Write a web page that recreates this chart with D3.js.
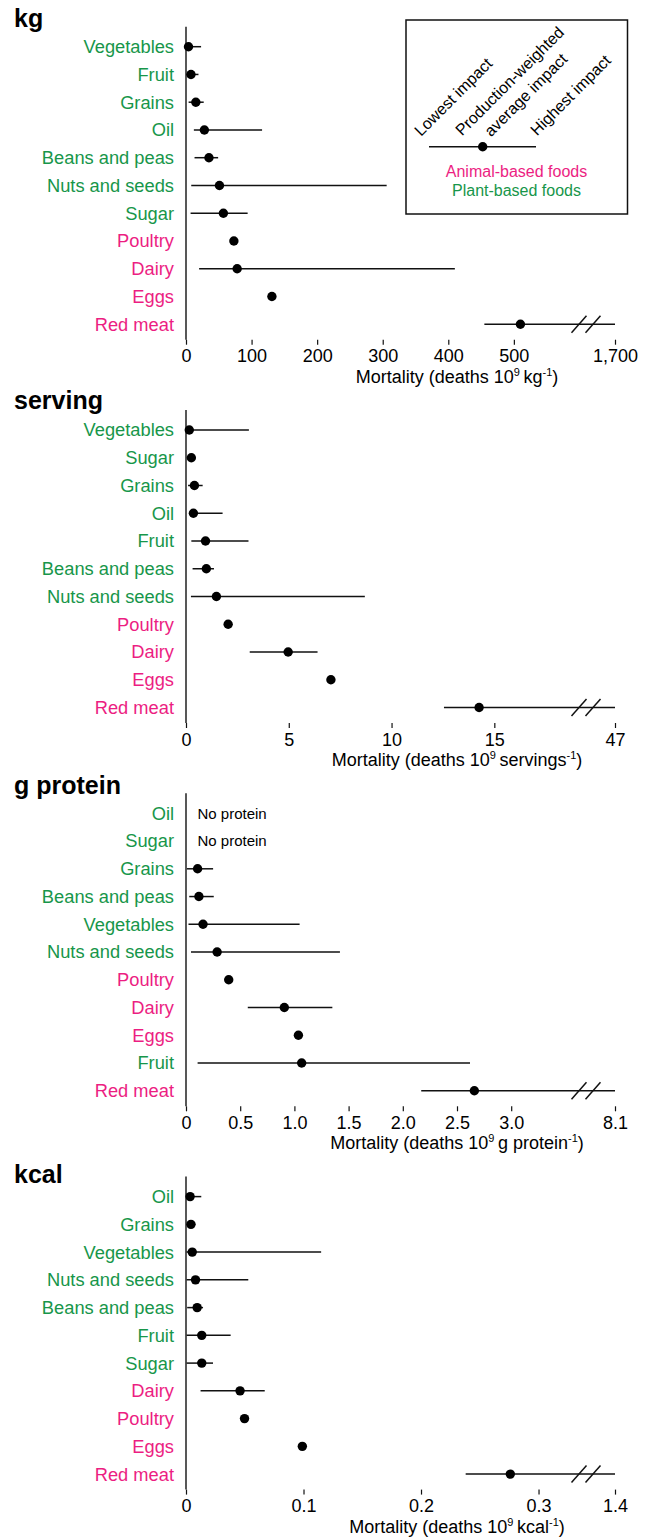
<!DOCTYPE html>
<html>
<head>
<meta charset="utf-8">
<script src="https://cdn.jsdelivr.net/npm/d3@7/dist/d3.min.js"></script>
<style>
  html, body { margin: 0; padding: 0; background: #fff; }
  svg { display: block; font-family: "Liberation Sans", Arial, Helvetica, sans-serif; }
</style>
</head>
<body>
<svg id="chart" width="651" height="1538"></svg>
<script>
// ---------- DATA ----------
const animalFoods = ["Poultry", "Dairy", "Eggs", "Red meat"];

// per kg
const kgFoods = ["Vegetables","Fruit","Grains","Oil","Beans and peas","Nuts and seeds","Sugar","Poultry","Dairy","Eggs","Red meat"];
const kgMean  = [3.8, 7.6, 15, 28, 35, 51, 57, 73, 78, 131, 510];
const kgLow   = [0.5, 1, 4, 12, 13, 8, 7, null, 20, null, 455];
const kgHigh  = [23, 19, 27, 116, 49, 306, 94, null, 410, null, 1700];
const kgTicks = [0, 100, 200, 300, 400, 500, 1700];
const kgTickLabels = ["0","100","200","300","400","500","1,700"];
const kgBreak = [610, 1700];

// per serving
const servFoods = ["Vegetables","Sugar","Grains","Oil","Fruit","Beans and peas","Nuts and seeds","Poultry","Dairy","Eggs","Red meat"];
const servMean  = [0.16, 0.26, 0.41, 0.36, 0.95, 0.99, 1.48, 2.05, 4.97, 7.05, 14.26];
const servLow   = [0.05, 0.1, 0.1, 0.16, 0.26, 0.32, 0.24, null, 3.1, null, 12.55];
const servHigh  = [3.06, 0.45, 0.81, 1.78, 3.04, 1.36, 8.7, null, 6.4, null, 47];
const servTicks = [0, 5, 10, 15, 47];
const servTickLabels = ["0","5","10","15","47"];
const servBreak = [19.46, 47];

// per g protein
const protFoods = ["Oil","Sugar","Grains","Beans and peas","Vegetables","Nuts and seeds","Poultry","Dairy","Eggs","Fruit","Red meat"];
const protMean  = [null, null, 0.107, 0.119, 0.157, 0.287, 0.394, 0.907, 1.037, 1.067, 2.66];
const protLow   = [null, null, 0.008, 0.03, 0.023, 0.046, null, 0.57, null, 0.107, 2.17];
const protHigh  = [null, null, 0.25, 0.256, 1.048, 1.42, null, 1.35, null, 2.62, 8.1];
const protTicks = [0, 0.5, 1, 1.5, 2, 2.5, 3, 8.1];
const protTickLabels = ["0","0.5","1.0","1.5","2.0","2.5","3.0","8.1"];
const protBreak = [3.69, 8.1];

// per kcal
const kcalFoods = ["Oil","Grains","Vegetables","Nuts and seeds","Beans and peas","Fruit","Sugar","Dairy","Poultry","Eggs","Red meat"];
const kcalMean  = [0.0035, 0.0042, 0.0053, 0.0081, 0.0095, 0.0134, 0.0134, 0.046, 0.0498, 0.099, 0.276];
const kcalLow   = [0.0005, 0.002, 0.0005, 0.0005, 0.001, 0.0005, 0.0005, 0.0124, null, null, 0.238];
const kcalHigh  = [0.013, 0.008, 0.115, 0.053, 0.0145, 0.038, 0.023, 0.067, null, null, 1.4];
const kcalTicks = [0, 0.1, 0.2, 0.3, 1.4];
const kcalTickLabels = ["0","0.1","0.2","0.3","1.4"];
const kcalBreak = [0.3404, 1.4];

const panelTitles = ["kg", "serving", "g protein", "kcal"];
const panelUnits  = ["kg", "servings", "g protein", "kcal"];

const legendLabels = ["Lowest impact", "Production-weighted", "average impact", "Highest impact"];
const legendGroups = ["Animal-based foods", "Plant-based foods"];

// ---------- STYLE / LAYOUT ----------
const GREEN = "#17964a", PINK = "#ec1e82", INK = "#111";
const x0 = 186, linW = 400, fullW = 429;
const rowStep = 27.75;
const panelTop0 = 46.7, panelGap = 383.3;
const titleYs = [26.5, 408.5, 793.5, 1183];

const panels = [
  {foods: kgFoods, mean: kgMean, low: kgLow, high: kgHigh, ticks: kgTicks, labels: kgTickLabels, brk: kgBreak},
  {foods: servFoods, mean: servMean, low: servLow, high: servHigh, ticks: servTicks, labels: servTickLabels, brk: servBreak},
  {foods: protFoods, mean: protMean, low: protLow, high: protHigh, ticks: protTicks, labels: protTickLabels, brk: protBreak},
  {foods: kcalFoods, mean: kcalMean, low: kcalLow, high: kcalHigh, ticks: kcalTicks, labels: kcalTickLabels, brk: kcalBreak}
];

const svg = d3.select("#chart");

panels.forEach((p, i) => {
  const top = panelTop0 + i * panelGap;
  const g = svg.append("g");
  const y = d3.scalePoint().domain(p.foods).range([top, top + (p.foods.length - 1) * rowStep]);
  const x = d3.scaleLinear().domain([0, p.brk[0], p.brk[1]]).range([x0, x0 + linW, x0 + fullW]);

  // title
  g.append("text").attr("x", 14).attr("y", titleYs[i])
    .attr("font-size", 25).attr("font-weight", "bold").attr("fill", "#000")
    .text(panelTitles[i]);

  // vertical axis line
  g.append("line").attr("x1", x0).attr("x2", x0)
    .attr("y1", top - 20).attr("y2", top + 293)
    .attr("stroke", INK).attr("stroke-width", 1.4);

  // x axis
  const axisY = top + 293;
  const ax = g.append("g").attr("transform", `translate(0,${axisY})`)
    .call(d3.axisBottom(x).tickValues(p.ticks)
      .tickFormat((d, k) => p.labels[k]).tickSize(5).tickPadding(5));
  ax.select(".domain").remove();
  ax.selectAll(".tick line").attr("stroke", INK).attr("stroke-width", 1.2);
  ax.selectAll(".tick text").attr("font-size", 18).attr("fill", "#000")
    .attr("font-family", '"Liberation Sans", Arial, Helvetica, sans-serif');

  // axis title
  const t = g.append("text").attr("x", 457).attr("y", top + 336)
    .attr("text-anchor", "middle").attr("font-size", 18).attr("fill", "#000");
  t.append("tspan").text("Mortality (deaths 10");
  t.append("tspan").attr("font-size", 11).attr("dy", -7).text("9");
  t.append("tspan").attr("dy", 7).text("\u2009" + panelUnits[i]);
  t.append("tspan").attr("font-size", 11).attr("dy", -7).text("-1");
  t.append("tspan").attr("dy", 7).text(")");

  // category labels
  g.selectAll("text.cat").data(p.foods).join("text").attr("class", "cat")
    .attr("x", x0 - 12).attr("y", d => y(d)).attr("dy", "0.35em")
    .attr("text-anchor", "end").attr("font-size", 18.3)
    .attr("fill", d => animalFoods.includes(d) ? PINK : GREEN)
    .text(d => d);

  const rows = p.foods.map((f, k) => ({food: f, mean: p.mean[k], low: p.low[k], high: p.high[k]}));

  // whiskers
  g.selectAll("line.rng").data(rows.filter(r => r.low != null)).join("line").attr("class", "rng")
    .attr("x1", r => x(r.low)).attr("x2", r => x(r.high))
    .attr("y1", r => y(r.food)).attr("y2", r => y(r.food))
    .attr("stroke", INK).attr("stroke-width", 1.5);

  // points
  g.selectAll("circle.pt").data(rows.filter(r => r.mean != null)).join("circle").attr("class", "pt")
    .attr("cx", r => x(r.mean)).attr("cy", r => y(r.food)).attr("r", 4.7)
    .attr("fill", "#000");

  // no-protein notes
  g.selectAll("text.np").data(rows.filter(r => r.mean == null)).join("text").attr("class", "np")
    .attr("x", x0 + 11.5).attr("y", r => y(r.food)).attr("dy", "0.35em")
    .attr("font-size", 15).attr("fill", "#000").text("No protein");

  // axis break marks on the Red meat row
  const yr = y("Red meat"), bx = x(p.brk[0]);
  [-7, 7].forEach(off => {
    g.append("line")
      .attr("x1", bx + off - 7.5).attr("y1", yr + 8.5)
      .attr("x2", bx + off + 7.5).attr("y2", yr - 8.5)
      .attr("stroke", INK).attr("stroke-width", 1.5);
  });
});

// ---------- LEGEND ----------
const lg = svg.append("g");
lg.append("rect").attr("x", 406).attr("y", 20).attr("width", 221.5).attr("height", 194)
  .attr("fill", "none").attr("stroke", INK).attr("stroke-width", 1.5);
lg.append("line").attr("x1", 429).attr("x2", 536).attr("y1", 146.7).attr("y2", 146.7)
  .attr("stroke", INK).attr("stroke-width", 1.5);
lg.append("circle").attr("cx", 482.7).attr("cy", 146.7).attr("r", 4.7).attr("fill", "#000");
const legPos = [[421, 137], [462, 136.5], [491, 137.5], [537, 136.5]];
legendLabels.forEach((s, k) => {
  lg.append("text").attr("transform", `translate(${legPos[k][0]},${legPos[k][1]}) rotate(-45)`)
    .attr("font-size", 16).attr("fill", "#000").text(s);
});
lg.append("text").attr("x", 516.5).attr("y", 177).attr("text-anchor", "middle")
  .attr("font-size", 16).attr("fill", PINK).text(legendGroups[0]);
lg.append("text").attr("x", 516.5).attr("y", 195.5).attr("text-anchor", "middle")
  .attr("font-size", 16).attr("fill", GREEN).text(legendGroups[1]);
</script>
</body>
</html>
